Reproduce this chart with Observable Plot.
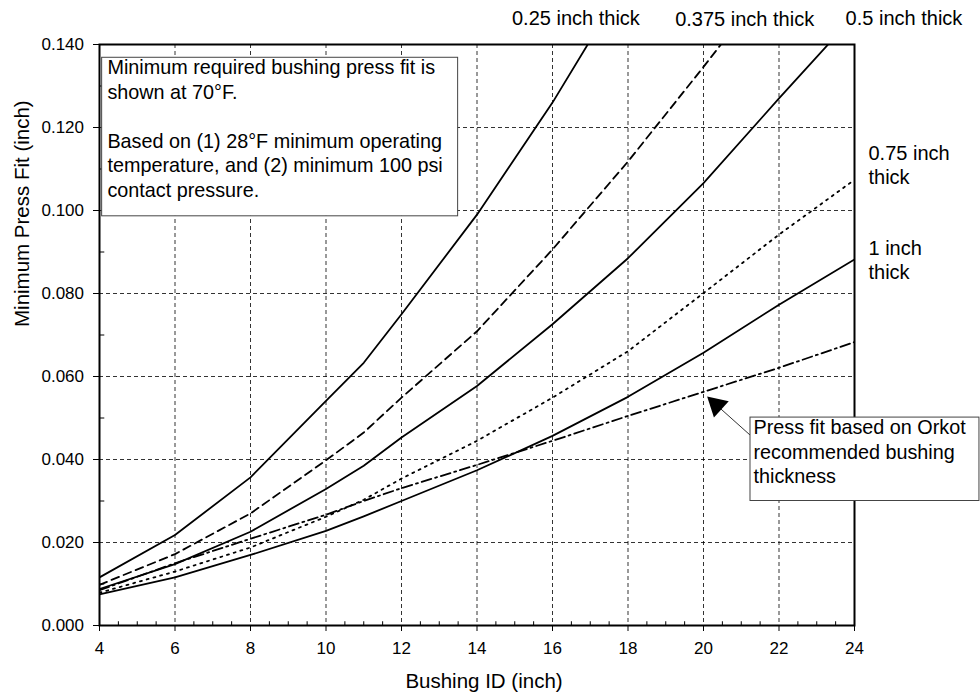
<!DOCTYPE html>
<html>
<head>
<meta charset="utf-8">
<script src="https://cdn.jsdelivr.net/npm/d3@7"></script>
<script src="https://cdn.jsdelivr.net/npm/@observablehq/plot@0.6"></script>
<style>
  html, body { margin: 0; padding: 0; background: #fff; }
  #chart svg { display: block; }
</style>
</head>
<body>
<div id="chart"></div>
<script>
// ---- data ----
const bushingId = [4, 6, 8, 10, 11, 12, 14, 16, 18, 20, 22, 24];
const fit025    = [0.0116, 0.0218, 0.0357, 0.0541, 0.0633, 0.0750, 0.0990, 0.1260, 0.1560, null, null, null];
const fit0375   = [0.0098, 0.0172, 0.0270, 0.0398, 0.0465, 0.0549, 0.0709, 0.0906, 0.1118, 0.1346, 0.1580, null];
const fit05     = [0.0088, 0.0148, 0.0226, 0.0329, 0.0385, 0.0453, 0.0577, 0.0726, 0.0885, 0.1066, 0.1270, 0.1470];
const fit075    = [0.0079, 0.0130, 0.0188, 0.0262, 0.0303, 0.0354, 0.0445, 0.0549, 0.0661, 0.0801, 0.0942, 0.1074];
const fit1      = [0.0075, 0.0116, 0.0170, 0.0228, 0.0263, 0.0300, 0.0374, 0.0457, 0.0551, 0.0657, 0.0773, 0.0882];
const fitOrkot  = [0.0085, 0.0150, 0.0209, 0.0267, 0.0300, 0.0331, 0.0387, 0.0445, 0.0505, 0.0563, 0.0621, 0.0683];

const seriesLabels = ["0.25 inch thick", "0.375 inch thick", "0.5 inch thick", "0.75 inch\nthick", "1 inch\nthick"];
const xTicks = [4, 6, 8, 10, 12, 14, 16, 18, 20, 22, 24];
const yTicks = [0, 0.02, 0.04, 0.06, 0.08, 0.10, 0.12, 0.14];
const xMinorTicks = [4.5, 5, 5.5, 6.5, 7, 7.5, 8.5, 9, 9.5, 10.5, 11, 11.5, 12.5, 13, 13.5, 14.5, 15, 15.5, 16.5, 17, 17.5, 18.5, 19, 19.5, 20.5, 21, 21.5, 22.5, 23, 23.5];
const yMinorTicks = [0.01, 0.03, 0.05, 0.07, 0.09, 0.11, 0.13];
const xTitle = "Bushing ID (inch)";
const yTitle = "Minimum Press Fit (inch)";
const noteLines = ["Minimum required bushing press fit is", "shown at 70°F.", "", "Based on (1) 28°F minimum operating", "temperature, and (2) minimum 100 psi", "contact pressure."];
const orkotLines = ["Press fit based on Orkot", "recommended bushing", "thickness"];

// ---- build tables ----
const toRows = (vals) => bushingId.map((x, i) => ({x, y: vals[i]})).filter(d => d.y != null);
const styles = [
  {vals: fit025,   dash: null},
  {vals: fit0375,  dash: "8,5"},
  {vals: fit05,    dash: null},
  {vals: fit075,   dash: "2,5"},
  {vals: fit1,     dash: null},
  {vals: fitOrkot, dash: "10,4,2,4"}
];

// annotation placements (data units)
const labelPos = [
  {x: 16.62, y: 0.1465, anchor: "middle"},
  {x: 21.09, y: 0.1464, anchor: "middle"},
  {x: 25.31, y: 0.1465, anchor: "middle"},
  {x: 24.37, y: 0.1111, anchor: "start"},
  {x: 24.37, y: 0.0882, anchor: "start"}
];
const noteBox  = {x1: 4.07, x2: 13.5, y1: 0.0986, y2: 0.1368, tx: 4.21, ty: 0.1200};
const orkotBox = {x1: 21.245, x2: 27.31, y1: 0.0300, y2: 0.0501, tx: 21.325, ty: 0.04205};
const arrowTail = {x: 21.245, y: 0.0458};
const arrowHead = {x: 20.347, y: 0.0531};

const font = "'Liberation Sans', Arial, Helvetica, sans-serif";

const marks = [
  Plot.gridX(xTicks.slice(1, -1), {stroke: "#000", strokeOpacity: 0.8, strokeDasharray: "4,3", strokeWidth: 1}),
  Plot.gridY(yTicks.slice(1, -1), {stroke: "#000", strokeOpacity: 0.8, strokeDasharray: "4,3", strokeWidth: 1}),
  Plot.ruleY(yMinorTicks, {x1: 4, x2: 4.14, stroke: "#000", strokeWidth: 1}),
  Plot.ruleX(xMinorTicks, {y1: 0, y2: 0.0009, stroke: "#000", strokeWidth: 1}),
  ...styles.map(s => Plot.line(toRows(s.vals), {
    x: "x", y: "y", stroke: "#000", strokeWidth: 1.8,
    strokeDasharray: s.dash, clip: true
  })),
  Plot.frame({stroke: "#000", strokeWidth: 2}),
  Plot.axisX({ticks: xTicks, tickSize: 6, tickPadding: 10, fontSize: 17, label: null, tickFormat: d => String(d)}),
  Plot.axisY({ticks: yTicks, tickSize: 6, tickPadding: 9.5, fontSize: 17, label: null, tickFormat: d3.format(".3f")}),
  // series labels
  ...seriesLabels.map((t, i) => Plot.text([t], {
    x: labelPos[i].x, y: labelPos[i].y, textAnchor: labelPos[i].anchor,
    lineAnchor: "middle", lineHeight: 1.2, fontSize: 20, fill: "#000"
  })),
  // top-left note box
  Plot.rect([noteBox], {x1: "x1", x2: "x2", y1: "y1", y2: "y2", fill: "#fff", stroke: "#444", strokeWidth: 1}),
  Plot.text([noteLines.join("\n")], {x: noteBox.tx, y: noteBox.ty, textAnchor: "start", lineAnchor: "middle", lineHeight: 1.24, fontSize: 19.8, fill: "#000"}),
  // Orkot note box with arrow
  Plot.link([{x1: arrowTail.x, y1: arrowTail.y, x2: arrowHead.x, y2: arrowHead.y}], {x1: "x1", y1: "y1", x2: "x2", y2: "y2", stroke: "#333", strokeWidth: 1}),
  Plot.dot([arrowHead], {x: "x", y: "y", symbol: "triangle", r: 8.2, rotate: -48, fill: "#000", stroke: "none"}),
  Plot.rect([orkotBox], {x1: "x1", x2: "x2", y1: "y1", y2: "y2", fill: "#fff", stroke: "#444", strokeWidth: 1}),
  Plot.text([orkotLines.join("\n")], {x: orkotBox.tx, y: orkotBox.ty, textAnchor: "start", lineAnchor: "middle", lineHeight: 1.23, fontSize: 19.8, fill: "#000"}),
  // axis titles
  Plot.text([xTitle], {frameAnchor: "bottom", dx: 7, dy: 56, lineAnchor: "middle", fontSize: 20.5, fill: "#000"}),
  Plot.text([yTitle], {frameAnchor: "left", dx: -77, dy: -8, rotate: -90, lineAnchor: "middle", fontSize: 20.5, fill: "#000"})
];

const chart = Plot.plot({
  width: 980,
  height: 694,
  marginLeft: 99,
  marginRight: 126,
  marginTop: 44,
  marginBottom: 69,
  style: {fontFamily: font, color: "#000", background: "#fff", overflow: "visible"},
  x: {domain: [4, 24]},
  y: {domain: [0, 0.14]},
  marks
});
document.getElementById("chart").appendChild(chart);
</script>
</body>
</html>
